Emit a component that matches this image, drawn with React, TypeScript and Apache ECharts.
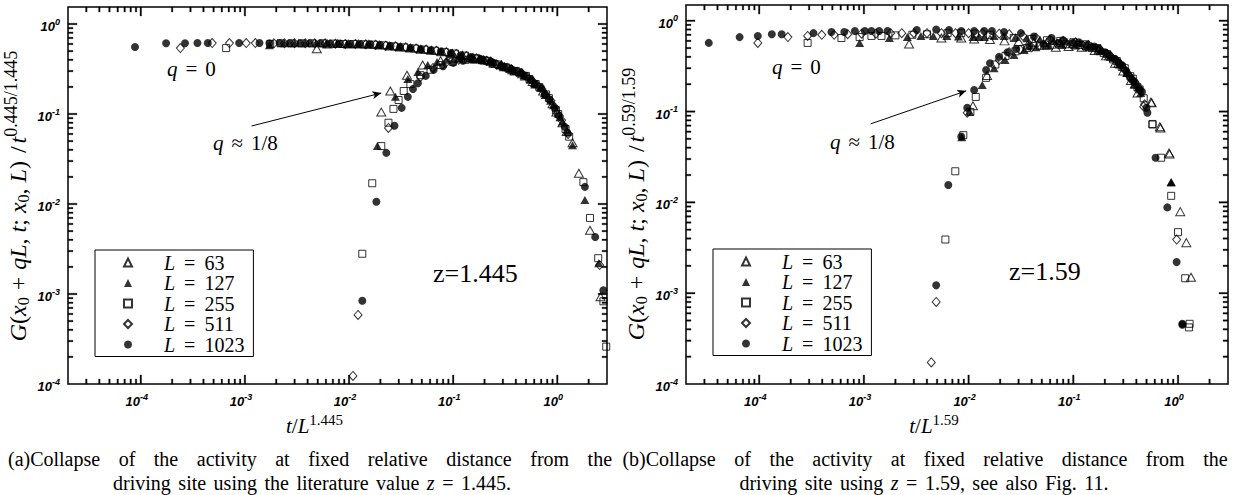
import React, { useEffect, useRef } from "react";
import * as echarts from "echarts";

const SERIF = '"Liberation Serif", "Times New Roman", serif';
const SANS = '"Liberation Sans", Arial, sans-serif';

const NAMES = ["L = 63", "L = 127", "L = 255", "L = 511", "L = 1023"];

// ---------- Panel (a): z = 1.445 ----------
// q = 0 branch
const a1023q0 = [[8.8e-5,0.555],[1.75e-4,0.61],[2.66e-4,0.61],[3.5e-4,0.615],[4.4e-4,0.615],[8.8e-4,0.615],[1.38e-3,0.615],[1.72e-3,0.61],[2.15e-3,0.615],[2.7e-3,0.61],[3.4e-3,0.61],[4.2e-3,0.61],[5.3e-3,0.61],[6.6e-3,0.605],[8.2e-3,0.605],[0.0103,0.6],[0.0128,0.6],[0.016,0.595],[0.02,0.585],[0.025,0.57],[0.031,0.555],[0.039,0.54],[0.049,0.525],[0.061,0.51],[0.076,0.495],[0.095,0.475],[0.118,0.45],[0.148,0.43],[0.184,0.405],[0.23,0.38],[0.29,0.34],[0.36,0.315],[0.45,0.285],[0.56,0.24],[0.7,0.195],[0.84,0.145],[1.03,0.097],[1.25,0.062],[1.84,0.0155],[2.31,0.0043]];
const a511q0 = [[2.4e-4,0.54],[4.85e-4,0.615],[7.1e-4,0.615],[1.03e-3,0.615],[1.26e-3,0.615],[1.9e-3,0.61],[2.4e-3,0.61],[3.0e-3,0.61],[3.8e-3,0.61],[4.7e-3,0.61],[5.9e-3,0.61],[7.4e-3,0.605],[9.2e-3,0.6],[0.0115,0.6],[0.0145,0.595],[0.018,0.59],[0.0225,0.575],[0.028,0.565],[0.035,0.55],[0.044,0.535],[0.055,0.52],[0.069,0.505],[0.086,0.485],[0.107,0.465],[0.134,0.44],[0.167,0.415],[0.21,0.39],[0.26,0.355],[0.33,0.325],[0.41,0.295],[0.51,0.26],[0.64,0.21],[0.77,0.165],[0.94,0.12],[1.1,0.085],[1.27,0.06],[2.55,0.0021]];
const a255q0 = [[6.6e-4,0.54],[1.75e-3,0.6],[2.2e-3,0.61],[2.8e-3,0.61],[3.5e-3,0.61],[4.4e-3,0.61],[5.6e-3,0.61],[7.0e-3,0.605],[8.8e-3,0.6],[0.011,0.6],[0.0138,0.595],[0.0173,0.59],[0.0217,0.58],[0.027,0.565],[0.034,0.55],[0.043,0.535],[0.053,0.52],[0.067,0.505],[0.083,0.49],[0.104,0.47],[0.13,0.445],[0.163,0.42],[0.2,0.395],[0.25,0.36],[0.32,0.33],[0.4,0.3],[0.5,0.265],[0.62,0.215],[0.78,0.165],[0.97,0.11],[1.2,0.068],[1.78,0.0175],[2.06,0.007],[2.47,0.0025],[2.77,8.3e-4],[2.95,2.6e-4]];
const a127q0 = [[1.72e-3,0.58],[2.4e-3,0.61],[3.0e-3,0.61],[3.8e-3,0.61],[4.8e-3,0.61],[6.0e-3,0.605],[7.6e-3,0.605],[9.5e-3,0.6],[0.012,0.6],[0.015,0.595],[0.019,0.585],[0.024,0.575],[0.03,0.56],[0.038,0.545],[0.048,0.53],[0.06,0.515],[0.076,0.495],[0.095,0.475],[0.12,0.45],[0.15,0.425],[0.19,0.4],[0.24,0.37],[0.3,0.34],[0.38,0.305],[0.48,0.27],[0.6,0.22],[0.75,0.17],[0.92,0.125],[1.12,0.082],[1.84,0.0111],[2.5,0.0022]];
const a63q0 = [[4.9e-3,0.53],[6.2e-3,0.6],[7.8e-3,0.605],[9.8e-3,0.6],[0.0123,0.6],[0.0155,0.595],[0.0195,0.585],[0.0245,0.57],[0.031,0.555],[0.039,0.54],[0.049,0.525],[0.062,0.51],[0.078,0.49],[0.098,0.47],[0.123,0.45],[0.155,0.425],[0.195,0.4],[0.245,0.365],[0.31,0.335],[0.39,0.3],[0.49,0.265],[0.62,0.215],[0.78,0.165],[0.98,0.105],[1.23,0.064],[1.61,0.022],[2.06,0.0051],[2.6,9.3e-4]];
// q ≈ 1/8 branch
const a1023q8 = [[0.0134,8.4e-4],[0.0183,0.0106],[0.0228,0.037],[0.0273,0.074],[0.032,0.117],[0.0367,0.155],[0.0411,0.19],[0.0458,0.22],[0.0545,0.265],[0.065,0.31],[0.08,0.34],[0.1,0.37],[0.124,0.39],[0.155,0.4],[0.195,0.395],[0.245,0.37],[0.31,0.335],[0.39,0.3],[0.49,0.265],[0.61,0.215],[0.76,0.165],[0.95,0.115],[1.18,0.072],[2.77,0.0011]];
const a511q8 = [[0.0109,1.23e-4],[0.0122,5.85e-4],[0.0239,0.07],[0.0485,0.258],[0.064,0.325],[0.085,0.37],[0.113,0.4],[0.148,0.41],[0.185,0.4],[0.23,0.38],[0.29,0.345],[0.36,0.315],[0.45,0.285],[0.57,0.235],[0.71,0.19],[0.87,0.14],[1.05,0.095]];
const a255q8 = [[0.0134,0.0028],[0.0167,0.017],[0.0204,0.044],[0.0239,0.08],[0.0267,0.114],[0.0299,0.143],[0.0335,0.18],[0.0388,0.215],[0.0485,0.27],[0.0606,0.31],[0.0757,0.35],[0.099,0.38],[0.132,0.4],[0.17,0.405],[0.21,0.39],[0.27,0.355],[0.34,0.32],[0.43,0.29],[0.54,0.245],[0.67,0.2],[0.83,0.15],[1.02,0.1],[1.3,0.056]];
const a127q8 = [[0.0187,0.044],[0.0279,0.155],[0.0367,0.245],[0.0458,0.293],[0.057,0.35],[0.07,0.378],[0.087,0.4],[0.113,0.415],[0.145,0.415],[0.18,0.405],[0.225,0.385],[0.28,0.35],[0.35,0.32],[0.44,0.29],[0.55,0.24],[0.69,0.195],[0.86,0.14],[1.06,0.092],[1.4,0.045]];
const a63q8 = [[0.0204,0.105],[0.0249,0.18],[0.036,0.27],[0.0509,0.35],[0.0757,0.39],[0.105,0.42],[0.14,0.42],[0.18,0.41],[0.23,0.385],[0.29,0.35],[0.37,0.31],[0.46,0.28],[0.58,0.23],[0.73,0.18],[0.9,0.13],[1.12,0.08],[1.4,0.048]];

// ---------- Panel (b): z = 1.59 ----------
const b1023q0 = [[3.3e-5,0.57],[6.5e-5,0.66],[9.7e-5,0.68],[1.32e-4,0.71],[1.64e-4,0.71],[3.3e-4,0.73],[4.9e-4,0.75],[6.5e-4,0.75],[8.2e-4,0.77],[1.02e-3,0.77],[1.18e-3,0.77],[1.4e-3,0.77],[1.68e-3,0.77],[3.2e-3,0.79],[4.9e-3,0.8],[6.5e-3,0.79],[8.5e-3,0.77],[0.0113,0.77],[0.0141,0.77],[0.0167,0.77],[0.0218,0.75],[0.0316,0.73],[0.042,0.67],[0.062,0.645],[0.08,0.61],[0.113,0.58],[0.159,0.52],[0.2,0.45],[0.25,0.38],[0.29,0.326],[0.33,0.26],[0.387,0.21],[0.453,0.165],[0.51,0.097],[0.61,0.031],[0.79,0.0088],[0.97,0.0022],[1.1,4.6e-4]];
const b511q0 = [[9.7e-5,0.57],[1.88e-4,0.66],[2.9e-4,0.68],[3.96e-4,0.7],[5.2e-4,0.7],[7.0e-4,0.71],[9.5e-4,0.72],[1.3e-3,0.72],[1.8e-3,0.73],[2.3e-3,0.73],[3.0e-3,0.73],[4.0e-3,0.73],[5.5e-3,0.73],[7.5e-3,0.73],[0.01,0.73],[0.0135,0.73],[0.0196,0.72],[0.0244,0.71],[0.033,0.68],[0.044,0.65],[0.06,0.62],[0.08,0.6],[0.105,0.58],[0.14,0.54],[0.18,0.48],[0.23,0.4],[0.28,0.33],[0.34,0.25],[0.4,0.2],[0.47,0.113],[0.97,0.0039]];
const b255q0 = [[2.9e-4,0.57],[6.1e-4,0.645],[9.1e-4,0.66],[1.18e-3,0.68],[1.47e-3,0.68],[2.0e-3,0.69],[2.9e-3,0.7],[4.0e-3,0.71],[6.3e-3,0.73],[8.5e-3,0.73],[0.0115,0.72],[0.016,0.7],[0.027,0.645],[0.04,0.63],[0.056,0.61],[0.075,0.6],[0.1,0.58],[0.13,0.55],[0.17,0.5],[0.21,0.43],[0.26,0.36],[0.31,0.3],[0.37,0.23],[0.43,0.175],[0.57,0.073],[0.69,0.031],[0.86,0.0118],[1.0,0.0047],[1.17,0.00146],[1.29,4.6e-4]];
const b127q0 = [[9.1e-4,0.57],[1.75e-3,0.645],[2.6e-3,0.66],[3.5e-3,0.68],[4.6e-3,0.68],[6.2e-3,0.68],[8.0e-3,0.67],[0.011,0.66],[0.0125,0.66],[0.0141,0.66],[0.0175,0.68],[0.0218,0.68],[0.028,0.66],[0.036,0.64],[0.048,0.62],[0.065,0.6],[0.087,0.59],[0.115,0.57],[0.15,0.53],[0.19,0.47],[0.24,0.39],[0.3,0.32],[0.36,0.24],[0.42,0.185],[0.86,0.0168]];
const b63q0 = [[2.7e-3,0.555],[5.5e-3,0.645],[8.5e-3,0.645],[0.0113,0.63],[0.016,0.62],[0.022,0.6],[0.03,0.59],[0.042,0.58],[0.056,0.58],[0.075,0.57],[0.1,0.56],[0.135,0.53],[0.175,0.48],[0.22,0.41],[0.27,0.34],[0.33,0.27],[0.39,0.2],[0.55,0.127],[0.67,0.068],[0.82,0.035],[1.05,0.0079],[1.2,0.0036],[1.33,0.0015]];
const b1023q8 = [[4.9e-3,0.00122],[6.4e-3,0.0155],[8.5e-3,0.053],[9.7e-3,0.11],[0.0113,0.173],[0.0147,0.287],[0.016,0.34],[0.0195,0.4],[0.0235,0.45],[0.0285,0.49],[0.038,0.52],[0.052,0.555],[0.073,0.57],[0.1,0.57],[0.135,0.54],[0.175,0.49],[0.22,0.42],[0.27,0.35],[0.32,0.28],[0.37,0.22],[0.43,0.175],[0.5,0.11],[1.1,4.5e-4]];
const b511q8 = [[4.4e-3,1.73e-4],[4.9e-3,8.0e-4],[9.7e-3,0.097],[0.0196,0.37],[0.0244,0.45],[0.031,0.48],[0.04,0.51],[0.052,0.54],[0.07,0.555],[0.095,0.55],[0.125,0.53],[0.165,0.49],[0.21,0.43],[0.26,0.36],[0.31,0.29],[0.36,0.23],[0.42,0.18],[0.48,0.12]];
const b255q8 = [[6.0e-3,0.0039],[7.46e-3,0.022],[8.9e-3,0.055],[0.0104,0.099],[0.0117,0.145],[0.0147,0.235],[0.018,0.33],[0.0225,0.41],[0.028,0.46],[0.036,0.5],[0.048,0.53],[0.063,0.545],[0.085,0.55],[0.115,0.54],[0.15,0.5],[0.195,0.44],[0.24,0.375],[0.29,0.31],[0.35,0.245],[0.41,0.185],[0.47,0.14],[0.57,0.072],[1.27,4.2e-4]];
const b127q8 = [[8.6e-3,0.052],[0.0102,0.1],[0.0135,0.196],[0.0175,0.3],[0.0223,0.37],[0.0271,0.42],[0.034,0.476],[0.044,0.51],[0.058,0.53],[0.078,0.54],[0.105,0.535],[0.14,0.51],[0.18,0.46],[0.225,0.4],[0.275,0.33],[0.325,0.265],[0.38,0.2],[0.44,0.16],[0.86,0.0165]];
const b63q8 = [[0.011,0.116],[0.015,0.25],[0.0365,0.54],[0.053,0.54],[0.068,0.51],[0.09,0.52],[0.12,0.51],[0.16,0.47],[0.205,0.41],[0.25,0.34],[0.3,0.28],[0.355,0.22],[0.41,0.16],[0.56,0.125],[0.68,0.066],[0.83,0.034]];

// axis ranges
const X_RANGE = [2e-5, 3];
const Y_RANGE_A = [1e-4, 1.545];
const Y_RANGE_B = [1e-4, 1.49];
const DECADES = [1e-5, 1e-4, 1e-3, 1e-2, 1e-1, 1];
const MINOR_STEPS = [2, 3, 4, 5, 6, 7, 8, 9];

// plot frames
const GRID_A = { left: 68, top: 7, width: 539, height: 377 };
const GRID_B = { left: 686, top: 5, width: 542, height: 379 };

// annotation arrows (data coordinates: tail, head)
const ARROW_A = [[1.16e-3, 0.0736], [0.0204, 0.171]];
const ARROW_B = [[1.16e-3, 0.0732], [9.5e-3, 0.169]];

const CAPTION_A1 = "(a)Collapse of the activity at fixed relative distance from the";
const CAPTION_B1 = "(b)Collapse of the activity at fixed relative distance from the";

const OPEN = { color: "rgba(255,255,255,0)", borderColor: "#000", borderWidth: 1 };
const FILLED = { color: "#000", borderWidth: 0 };
const STYLE: Record<string, any> = {
  "L = 63": { symbol: "triangle", symbolSize: [9, 8], itemStyle: OPEN },
  "L = 127": { symbol: "triangle", symbolSize: [9, 8], itemStyle: FILLED },
  "L = 255": { symbol: "rect", symbolSize: 7, itemStyle: OPEN },
  "L = 511": { symbol: "diamond", symbolSize: [8, 9], itemStyle: OPEN },
  "L = 1023": { symbol: "circle", symbolSize: 8, itemStyle: FILLED },
};

function inRange(v: number, r: number[]) {
  return v > r[0] * 1.0001 && v < r[1] * 0.9999;
}

function powLabel(v: number): string {
  const l = Math.log10(v);
  const e = Math.round(l);
  if (Math.abs(l - e) > 1e-6) return "";
  return `{b|10}{s|${e}}`;
}

const tickFont = { fontFamily: SANS, fontWeight: "bold", fontStyle: "italic", color: "#000" };
const yTickRich = {
  b: { ...tickFont, fontSize: 13, padding: [5, 0, 0, 0] },
  s: { ...tickFont, fontSize: 9, padding: [0, 0, 5, 0] },
};
const xTickRich = {
  b: { ...tickFont, fontSize: 13, padding: [5, 0, 0, 0] },
  s: { ...tickFont, fontSize: 9, padding: [0, 8, 5, 0] },
};

const nameRich = {
  i: { fontFamily: SERIF, fontStyle: "italic", fontSize: 24, fill: "#000", color: "#000" },
  r: { fontFamily: SERIF, fontSize: 24, fill: "#000", color: "#000" },
  op: { fontFamily: SERIF, fontSize: 24, fill: "#000", color: "#000", padding: [0, 7, 0, 7] },
  pc: { fontFamily: SERIF, fontSize: 24, fill: "#000", color: "#000", padding: [0, 6, 0, 0] },
  sl: { fontFamily: SERIF, fontSize: 24, fill: "#000", color: "#000", padding: [0, 3, 0, 8] },
  sb: { fontFamily: SERIF, fontSize: 16, fill: "#000", color: "#000", padding: [11, 0, 0, 0] },
  sp: { fontFamily: SERIF, fontSize: 18, fill: "#000", color: "#000", padding: [0, 0, 15, 0] },
};
const xNameRich = {
  i: { fontFamily: SERIF, fontStyle: "italic", fontSize: 21, color: "#000" },
  r: { fontFamily: SERIF, fontSize: 21, color: "#000" },
  sp: { fontFamily: SERIF, fontSize: 15, color: "#000", padding: [0, 0, 12, 0] },
};

function yName(exp: string) {
  return `{i|G}{r|(}{i|x}{sb|0}{op|+}{i|qL}{pc|,}{i|t}{pc|;}{i|x}{sb|0}{pc|,}{i|L}{r|)}{sl|/}{i|t}{sp|${exp}}`;
}

function xAxis(grid: number, z: string) {
  return {
    type: "log",
    logBase: 10,
    gridIndex: grid,
    min: X_RANGE[0],
    max: X_RANGE[1],
    axisLine: { show: false },
    axisTick: { show: false },
    minorTick: { show: false },
    splitLine: { show: false },
    axisLabel: { interval: 0, margin: 6, formatter: powLabel, rich: xTickRich, showMinLabel: true, showMaxLabel: true },
    name: `{i|t}{r|/}{i|L}{sp|${z}}`,
    nameLocation: "middle",
    nameGap: 26,
    nameTextStyle: { rich: xNameRich, padding: [0, 46, 0, 0] },
  };
}
function yAxis(grid: number, r: number[]) {
  return {
    type: "log",
    logBase: 10,
    gridIndex: grid,
    min: r[0],
    max: r[1],
    axisLine: { show: false },
    axisTick: { show: false },
    minorTick: { show: false },
    splitLine: { show: false },
    axisLabel: { interval: 0, margin: 8, formatter: powLabel, rich: yTickRich, showMinLabel: true, showMaxLabel: true },
  };
}

function scatter(name: string, grid: number, data: number[][], extra: any = {}) {
  return {
    type: "scatter",
    name,
    xAxisIndex: grid,
    yAxisIndex: grid,
    data,
    symbol: STYLE[name].symbol,
    symbolSize: STYLE[name].symbolSize,
    itemStyle: STYLE[name].itemStyle,
    emphasis: { disabled: true },
    silent: true,
    ...extra,
  };
}

function arrow(coords: number[][]) {
  return {
    markLine: {
      silent: true,
      symbol: ["none", "arrow"],
      symbolSize: [6, 9],
      lineStyle: { color: "#000", width: 1, type: "solid" },
      label: { show: false },
      emphasis: { disabled: true },
      data: [[{ coord: coords[0] }, { coord: coords[1] }]],
    },
  };
}

function legend(left: number, top: number) {
  return {
    orient: "vertical",
    left,
    top,
    data: NAMES,
    itemWidth: 8,
    itemHeight: 8,
    itemGap: 0.5,
    padding: [2.5, 9, 2, 28],
    borderColor: "#000",
    borderWidth: 1,
    backgroundColor: "#fff",
    selectedMode: false,
    formatter: (n: string) => `{i|L}{e|=}{r|${n.split("= ")[1]}}`,
    textStyle: {
      rich: {
        i: { fontFamily: SERIF, fontStyle: "italic", fontSize: 20, lineHeight: 21, color: "#000", padding: [0, 0, 0, 27] },
        e: { fontFamily: SERIF, fontSize: 20, lineHeight: 21, color: "#000", padding: [0, 9, 0, 9] },
        r: { fontFamily: SERIF, fontSize: 20, lineHeight: 21, color: "#000" },
      },
    },
  };
}

const annRich = {
  i: { fontFamily: SERIF, fontStyle: "italic", fontSize: 21, fill: "#000" },
  r: { fontFamily: SERIF, fontSize: 21, fill: "#000" },
  o: { fontFamily: SERIF, fontSize: 21, fill: "#000", padding: [0, 8, 0, 8] },
};
function ann(x: number, y: number, text: string, size = 21) {
  return {
    type: "text",
    x,
    y,
    silent: true,
    style: { text, fontFamily: SERIF, fontSize: size, fill: "#000", align: "left", verticalAlign: "middle", rich: annRich },
  };
}
function yTitle(x: number, y: number, exp: string) {
  return {
    type: "text",
    x,
    y,
    rotation: Math.PI / 2,
    silent: true,
    style: { text: yName(exp), fontFamily: SERIF, fontSize: 24, fill: "#000", align: "center", verticalAlign: "middle", rich: nameRich },
  };
}
const CAP = 20;
const capRich = {
  r: { fontFamily: SERIF, fontSize: CAP, fill: "#000" },
  i: { fontFamily: SERIF, fontStyle: "italic", fontSize: CAP, fill: "#000" },
  w: { fontFamily: SERIF, fontSize: CAP, fill: "#000", padding: [0, 13.5, 0, 0] },
  v: { fontFamily: SERIF, fontSize: CAP, fill: "#000", padding: [0, 2.5, 0, 0] },
};
function caption(x: number, y: number, text: string) {
  return {
    type: "text",
    x,
    y,
    silent: true,
    style: { text, fontFamily: SERIF, fontSize: CAP, fill: "#000", align: "center", verticalAlign: "middle", rich: capRich },
  };
}
function spaced(s: string, gap: string) {
  return s
    .split(" ")
    .map((w) => (w === "z" ? "{i|z}" : `{r|${w}}`))
    .join(`{${gap}| }`);
}

// inward tick marks on all four frame sides, drawn as short filled bars at log positions
function frac(v: number, r: number[]) {
  return (Math.log10(v) - Math.log10(r[0])) / (Math.log10(r[1]) - Math.log10(r[0]));
}
const TW = 1.5;
function bar(x: number, y: number, w: number, h: number) {
  return { type: "rect", silent: true, z: 50, shape: { x, y, width: w, height: h }, style: { fill: "#000", stroke: "#000", lineWidth: 0.3 } };
}
function tickBars(g: any, yr: number[]) {
  const els: any[] = [];
  const bottom = g.top + g.height;
  const right = g.left + g.width;
  for (const d of DECADES) {
    for (const m of [1, ...MINOR_STEPS]) {
      const v = +(m * d).toPrecision(6);
      const len = m === 1 ? 9 : 5;
      if (inRange(v, X_RANGE)) {
        const x = g.left + g.width * frac(v, X_RANGE) - TW / 2;
        els.push(bar(x, bottom - len, TW, len));
        els.push(bar(x, g.top, TW, len));
      }
      if (inRange(v, yr)) {
        const y = bottom - g.height * frac(v, yr) - TW / 2;
        els.push(bar(g.left, y, len, TW));
        els.push(bar(right - len, y, len, TW));
      }
    }
  }
  return els;
}

export default function App() {
  const ref = useRef<HTMLDivElement>(null);
  useEffect(() => {
    if (!ref.current) return;
    const chart = echarts.init(ref.current, null, { renderer: "svg" });
    const option: any = {
      animation: false,
      backgroundColor: "#fff",
      grid: [
        { ...GRID_A, show: true, borderColor: "#000", borderWidth: 1.5, containLabel: false, outerBoundsMode: "none" },
        { ...GRID_B, show: true, borderColor: "#000", borderWidth: 1.5, containLabel: false, outerBoundsMode: "none" },
      ],
      xAxis: [xAxis(0, "1.445"), xAxis(1, "1.59")],
      yAxis: [yAxis(0, Y_RANGE_A), yAxis(1, Y_RANGE_B)],
      legend: [legend(95, 250), legend(713, 249)],
      series: [
        scatter("L = 1023", 0, [...a1023q0, ...a1023q8], arrow(ARROW_A)),
        scatter("L = 127", 0, [...a127q0, ...a127q8]),
        scatter("L = 255", 0, [...a255q0, ...a255q8]),
        scatter("L = 511", 0, [...a511q0, ...a511q8]),
        scatter("L = 63", 0, [...a63q0, ...a63q8]),
        scatter("L = 1023", 1, [...b1023q0, ...b1023q8], arrow(ARROW_B)),
        scatter("L = 127", 1, [...b127q0, ...b127q8]),
        scatter("L = 255", 1, [...b255q0, ...b255q8]),
        scatter("L = 511", 1, [...b511q0, ...b511q8]),
        scatter("L = 63", 1, [...b63q0, ...b63q8]),
      ],
      graphic: [
        yTitle(18, 196, "0.445/1.445"),
        yTitle(636, 204, "0.59/1.59"),
        ann(167, 69, "{i|q}{o|=}{r|0}"),
        ann(213, 143, "{i|q}{o|≈}{r|1/8}"),
        ann(433, 273, "z=1.445", 26),
        ann(772, 67, "{i|q}{o|=}{r|0}"),
        ann(830, 142, "{i|q}{o|≈}{r|1/8}"),
        ann(1009, 271, "z=1.59", 26),
        caption(310, 459, spaced(CAPTION_A1, "w")),
        caption(312, 483, spaced("driving site using the literature value z = 1.445.", "v")),
        caption(925, 459, spaced(CAPTION_B1, "w")),
        caption(924, 483, spaced("driving site using z = 1.59, see also Fig. 11.", "v")),
        ...tickBars(GRID_A, Y_RANGE_A),
        ...tickBars(GRID_B, Y_RANGE_B),
      ],
    };
    chart.setOption(option);
    return () => chart.dispose();
  }, []);
  return (
    <div
      ref={ref}
      style={{ position: "absolute", left: 0, top: 0, width: 1234, height: 495, background: "#fff" }}
    />
  );
}
